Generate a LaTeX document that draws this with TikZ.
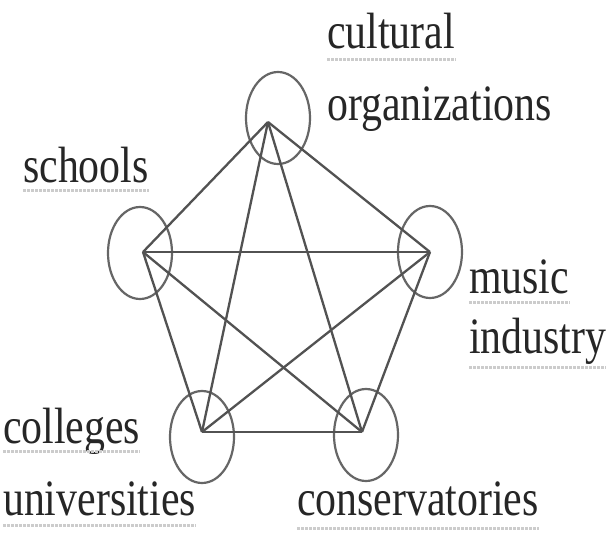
\documentclass[tikz,border=0pt]{standalone}
\usepackage{fontspec}
\newfontfamily\labelfont{Liberation Serif}
\usetikzlibrary{shapes.geometric}

\begin{document}
\begin{tikzpicture}[x=1pt, y=-1pt,
  ring/.style = {draw=black!60, ellipse, line width=2.2pt, minimum width=64pt, minimum height=92pt, inner sep=0pt},
  link/.style = {draw=black!68, line width=2.3pt},
  word/.style = {anchor=base west, inner sep=0pt, transform shape, xscale=0.82, text=black!85, font=\labelfont\fontsize{51}{51}\selectfont},
  squiggle/.style = {draw=gray!40, densely dotted, line width=3pt}]
\useasboundingbox (0,0) rectangle (614,533);
\fill[white] (0,0) rectangle (614,533);
% circles round the five partners
\node[ring](tc) at (278,118) {}; \node[ring](lc) at (140,253) {}; \node[ring](rc) at (430,252) {};
\node[ring](blc) at (202,437) {}; \node[ring](brc) at (366,435) {};
% meeting points of the links
\coordinate (t) at (268,122); \coordinate (l) at (143,252); \coordinate (r) at (430,252);
\coordinate (bl) at (202,432); \coordinate (br) at (362,432);
\draw[link] (t) -- (l); \draw[link] (t) -- (r); \draw[link] (t) -- (bl); \draw[link] (t) -- (br);
\draw[link] (l) -- (r); \draw[link] (l) -- (bl); \draw[link] (l) -- (br);
\draw[link] (r) -- (bl); \draw[link] (r) -- (br); \draw[link] (bl) -- (br);
% labels
\node[word](cul) at (327,48) {cultural}; \node[word](org) at (327,120) {organizations};
\node[word](sch) at (23,182) {schools};
\node[word](mus) at (469,293) {music}; \node[word](ind) at (469,353) {industry};
\node[word](col) at (3,443) {colleges}; \node[word](uni) at (3,515) {universities};
\node[word](con) at (297,515) {conservatories};
% dotted marks under the words
\draw[squiggle] ([yshift=-11pt]cul.base west) -- ([yshift=-11pt]cul.base east);
\draw[squiggle] ([yshift=-8pt]sch.base west) -- ([yshift=-8pt]sch.base east);
\draw[squiggle] ([yshift=-9pt]mus.base west) -- ([yshift=-9pt]mus.base east);
\draw[squiggle] ([yshift=-14pt]ind.base west) -- ([yshift=-14pt]ind.base east);
\draw[squiggle] ([yshift=-8pt]col.base west) -- ([yshift=-8pt]col.base east);
\draw[squiggle] ([yshift=-10pt]uni.base west) -- ([yshift=-10pt]uni.base east);
\draw[squiggle] ([yshift=-13pt]con.base west) -- ([yshift=-13pt]con.base east);
\end{tikzpicture}
\end{document}
